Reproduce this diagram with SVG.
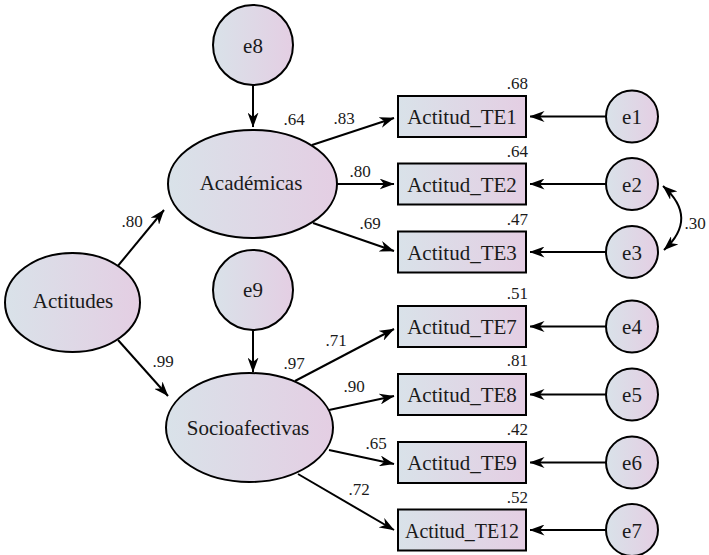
<svg xmlns="http://www.w3.org/2000/svg" width="709" height="555" viewBox="0 0 709 555" font-family="'Liberation Serif', 'Times New Roman', serif">
<defs>
<linearGradient id="g" x1="0" y1="0" x2="1" y2="0">
<stop offset="0" stop-color="#d9e2e9"/>
<stop offset="1" stop-color="#e4cee3"/>
</linearGradient>
<marker id="ah" viewBox="0 0 15 11" refX="14.5" refY="5.5" markerWidth="15" markerHeight="11" markerUnits="userSpaceOnUse" orient="auto-start-reverse">
<path d="M0,0 L15,5.5 L0,11 L4.5,5.5 Z" fill="#000"/>
</marker>
</defs>
<style>
.s{fill:url(#g);stroke:#000;stroke-width:2}
text{font-family:'Liberation Serif','Times New Roman',serif}
.t{font-size:21px;fill:#1a1a1a;text-anchor:middle}
.l{font-size:17px;fill:#1a1a1a;text-anchor:middle}
.r{text-anchor:end}
.c{fill:none;stroke:#000;stroke-width:2;marker-end:url(#ah)}
</style>
<rect width="709" height="555" fill="#fff"/>
<g id="connectors">
<path class="c" d="M253,85 L253,127"/>
<path class="c" d="M253,330 L253,372"/>
<path class="c" d="M117,267 L164,210"/>
<path class="c" d="M118,340 L168,396"/>
<path class="c" d="M312,145 L394,118"/>
<path class="c" d="M337,184 L394,184"/>
<path class="c" d="M313,223 L394,251"/>
<path class="c" d="M295,381 L394,329"/>
<path class="c" d="M329,410 L394,396"/>
<path class="c" d="M329,450 L394,464"/>
<path class="c" d="M298,474 L394,530"/>
<path class="c" d="M606,116.5 L530,116.5"/>
<path class="c" d="M606,184 L530,184"/>
<path class="c" d="M606,252 L530,252"/>
<path class="c" d="M606,326.5 L530,326.5"/>
<path class="c" d="M606,394.5 L530,394.5"/>
<path class="c" d="M606,462.5 L530,462.5"/>
<path class="c" d="M606,530 L530,530"/>
<path class="c" style="marker-start:url(#ah)" d="M663,186 Q699,218 664,250"/>
<text class="l" x="132" y="227">.80</text>
<text class="l" x="163" y="367">.99</text>
<text class="l" x="344" y="124">.83</text>
<text class="l" x="360" y="177">.80</text>
<text class="l" x="370" y="229">.69</text>
<text class="l" x="336" y="346">.71</text>
<text class="l" x="354" y="392">.90</text>
<text class="l" x="376" y="449">.65</text>
<text class="l" x="359" y="495">.72</text>
<text class="l" x="695" y="229">.30</text>
</g>
<g id="e8"><circle class="s" cx="253" cy="45" r="40"/><text class="t" x="253" y="53">e8</text></g>
<g id="e9"><circle class="s" cx="253" cy="290" r="40"/><text class="t" x="253" y="297">e9</text></g>
<g id="Actitudes"><ellipse class="s" cx="72.5" cy="302.5" rx="67.5" ry="49.5"/><text class="t" x="73" y="308">Actitudes</text></g>
<g id="Academicas"><ellipse class="s" cx="252.5" cy="184" rx="84.5" ry="54"/><text class="t" x="251" y="190">Académicas</text><text class="l" x="294" y="125">.64</text></g>
<g id="Socioafectivas"><ellipse class="s" cx="249.5" cy="427.5" rx="83.5" ry="54.5"/><text class="t" x="248" y="435">Socioafectivas</text><text class="l" x="294" y="369">.97</text></g>
<g id="TE1"><rect class="s" x="398" y="96" width="128" height="41"/><text class="t" x="462" y="124">Actitud_TE1</text><text class="l r" x="528" y="89">.68</text></g>
<g id="TE2"><rect class="s" x="398" y="163.5" width="128" height="41"/><text class="t" x="462" y="191.5">Actitud_TE2</text><text class="l r" x="528" y="157">.64</text></g>
<g id="TE3"><rect class="s" x="398" y="231.5" width="128" height="41"/><text class="t" x="462" y="259.5">Actitud_TE3</text><text class="l r" x="528" y="225">.47</text></g>
<g id="TE7"><rect class="s" x="398" y="306" width="128" height="41"/><text class="t" x="462" y="334">Actitud_TE7</text><text class="l r" x="528" y="299">.51</text></g>
<g id="TE8"><rect class="s" x="398" y="374" width="128" height="41"/><text class="t" x="462" y="402">Actitud_TE8</text><text class="l r" x="528" y="366">.81</text></g>
<g id="TE9"><rect class="s" x="398" y="442" width="128" height="41"/><text class="t" x="462" y="470">Actitud_TE9</text><text class="l r" x="528" y="435">.42</text></g>
<g id="TE12"><rect class="s" x="398" y="509.5" width="128" height="41"/><text class="t" x="462" y="537.5" textLength="114" lengthAdjust="spacingAndGlyphs">Actitud_TE12</text><text class="l r" x="528" y="503">.52</text></g>
<g id="e1"><circle class="s" cx="632" cy="116.5" r="26"/><text class="t" x="632" y="124">e1</text></g>
<g id="e2"><circle class="s" cx="632" cy="184" r="26"/><text class="t" x="632" y="191.5">e2</text></g>
<g id="e3"><circle class="s" cx="632" cy="252" r="26"/><text class="t" x="632" y="259.5">e3</text></g>
<g id="e4"><circle class="s" cx="632" cy="326.5" r="26"/><text class="t" x="632" y="334">e4</text></g>
<g id="e5"><circle class="s" cx="632" cy="394.5" r="26"/><text class="t" x="632" y="402">e5</text></g>
<g id="e6"><circle class="s" cx="632" cy="462.5" r="26"/><text class="t" x="632" y="470">e6</text></g>
<g id="e7"><circle class="s" cx="632" cy="530" r="26"/><text class="t" x="632" y="537.5">e7</text></g>
</svg>
